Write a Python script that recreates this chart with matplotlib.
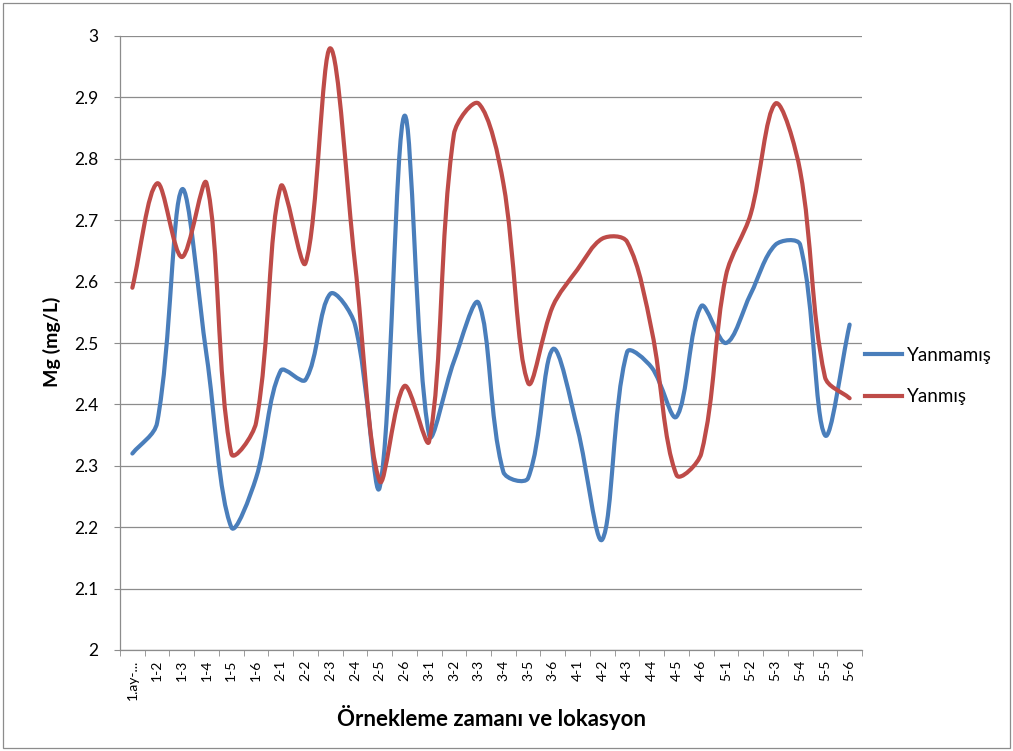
import numpy as np
import matplotlib.pyplot as plt
from matplotlib.path import Path
from matplotlib.patches import PathPatch, Rectangle
from matplotlib.lines import Line2D

plt.rcParams['font.family'] = ['Lato', 'DejaVu Sans']

# Kategoriler (örnekleme zamanı - lokasyon)
labels = ["1.ay-...", "1-2", "1-3", "1-4", "1-5", "1-6",
          "2-1", "2-2", "2-3", "2-4", "2-5", "2-6",
          "3-1", "3-2", "3-3", "3-4", "3-5", "3-6",
          "4-1", "4-2", "4-3", "4-4", "4-5", "4-6",
          "5-1", "5-2", "5-3", "5-4", "5-5", "5-6"]

yanmamis = [2.32, 2.37, 2.75, 2.48, 2.20, 2.28,
            2.455, 2.44, 2.58, 2.53, 2.265, 2.87,
            2.35, 2.47, 2.565, 2.29, 2.28, 2.49,
            2.36, 2.18, 2.485, 2.46, 2.38, 2.56,
            2.50, 2.58, 2.66, 2.66, 2.35, 2.53]

yanmis = [2.59, 2.76, 2.64, 2.76, 2.32, 2.37,
          2.755, 2.63, 2.98, 2.63, 2.275, 2.43,
          2.34, 2.84, 2.89, 2.76, 2.435, 2.56,
          2.62, 2.67, 2.665, 2.52, 2.285, 2.32,
          2.61, 2.71, 2.89, 2.78, 2.445, 2.41]

BLUE = "#4A7EBB"
RED = "#BE4B48"
GRID = "#8C8C8C"


def smooth_path(ax, x, y):
    # Excel-like smoothed line: cubic Bezier, handles scaled by segment length (screen space)
    pts = ax.transData.transform(np.column_stack([x, y]).astype(float))
    n = len(pts)
    seg = np.hypot(*np.diff(pts, axis=0).T)
    verts = [pts[0]]
    codes = [Path.MOVETO]
    for i in range(n - 1):
        p1, p2 = pts[i], pts[i + 1]
        if i > 0:
            t1 = (p2 - pts[i - 1]) * seg[i] / (seg[i - 1] + seg[i]) / 3.
        else:
            t1 = (p2 - p1) / 3.
        if i + 2 < n:
            t2 = (pts[i + 2] - p1) * seg[i] / (seg[i] + seg[i + 1]) / 3.
        else:
            t2 = (p2 - p1) / 3.
        verts += [p1 + t1, p2 - t2, p2]
        codes += [Path.CURVE4] * 3
    verts = ax.transData.inverted().transform(np.array(verts))
    return Path(verts, codes)


fig = plt.figure(figsize=(10.13, 7.51), dpi=100)
ax = fig.add_axes([120/1013, 1 - 650/751, (862 - 120)/1013, (650 - 36)/751])

xs = np.arange(len(labels))
ax.set_xlim(-0.5, len(labels) - 0.5)
ax.set_ylim(2.0, 3.0)

for vals, col in ((yanmamis, BLUE), (yanmis, RED)):
    ax.add_patch(PathPatch(smooth_path(ax, xs, vals), facecolor="none", edgecolor=col,
                           lw=3.0, capstyle="round", joinstyle="round", zorder=3))

yt = np.round(np.arange(2.0, 3.01, 0.1), 1)
ax.set_yticks(yt)
ax.set_yticklabels([f"{v:g}" for v in yt], fontsize=12.5)
ax.yaxis.grid(True, color=GRID, lw=0.9)
ax.set_axisbelow(True)

ax.set_xticks(xs)
ax.set_xticklabels(labels, rotation=90, fontsize=10)
ax.set_xticks(np.arange(-0.5, len(labels), 1.0), minor=True)
ax.tick_params(axis="x", which="major", length=0, pad=7)
ax.tick_params(axis="x", which="minor", length=4.5, direction="out", color=GRID)
ax.tick_params(axis="y", length=4.5, direction="out", color=GRID, pad=11)

for s in ("top", "right"):
    ax.spines[s].set_visible(False)
for s in ("left", "bottom"):
    ax.spines[s].set_color(GRID)
    ax.spines[s].set_linewidth(0.9)

fig.text(52/1013, 1 - 342/751, "Mg (mg/L)", fontsize=14, fontweight="bold",
         rotation=90, ha="center", va="center")
fig.text(491/1013, 1 - 717/751, "Örnekleme zamanı ve lokasyon", fontsize=16,
         fontweight="bold", ha="center", va="center")

handles = [Line2D([], [], color=BLUE, lw=3.0), Line2D([], [], color=RED, lw=3.0)]
fig.legend(handles, ["Yanmamış", "Yanmış"], loc="center left",
           bbox_to_anchor=(848/1013, 1 - 376/751), frameon=False, fontsize=13.5,
           handlelength=2.0, handletextpad=0.25, labelspacing=1.3)

fig.patches.append(Rectangle((3/1013, 3/751), 1 - 6/1013, 1 - 6/751, transform=fig.transFigure,
                             facecolor="none", edgecolor=GRID, lw=0.9))

fig.savefig("out.png", dpi=100)
